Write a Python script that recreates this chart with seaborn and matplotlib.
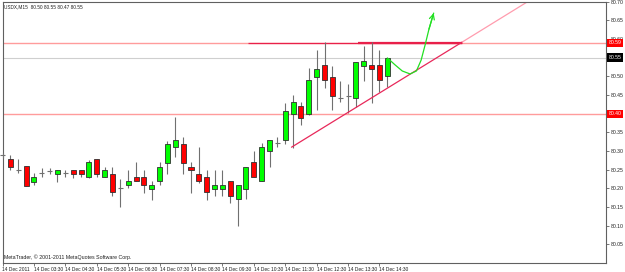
import numpy as np
import pandas as pd
import matplotlib
matplotlib.use("Agg")
import matplotlib.pyplot as plt
import seaborn as sns

# ---------------- data ----------------
symbol = "USDX,M15"
copyright_text = "MetaTrader, \u00a9 2001-2011 MetaQuotes Software Corp."

opens = [80.288, 80.278, 80.248, 80.259, 80.216, 80.240, 80.246, 80.238, 80.240, 80.248,
         80.248, 80.230, 80.278, 80.230, 80.238, 80.200, 80.208, 80.230, 80.230, 80.197,
         80.219, 80.267, 80.310, 80.318, 80.256, 80.238, 80.230, 80.197, 80.197, 80.219,
         80.170, 80.197, 80.270, 80.219, 80.299, 80.321, 80.329, 80.398, 80.420, 80.398,
         80.498, 80.530, 80.498, 80.441, 80.447, 80.441, 80.527, 80.530, 80.530, 80.50]
highs = [80.294, 80.288, 80.278, 80.260, 80.240, 80.254, 80.254, 80.248, 80.248, 80.248,
         80.248, 80.275, 80.278, 80.256, 80.256, 80.224, 80.248, 80.270, 80.248, 80.219,
         80.270, 80.326, 80.390, 80.337, 80.270, 80.310, 80.248, 80.248, 80.248, 80.219,
         80.208, 80.256, 80.299, 80.321, 80.329, 80.337, 80.428, 80.449, 80.431, 80.522,
         80.570, 80.591, 80.527, 80.487, 80.479, 80.538, 80.581, 80.591, 80.570, 80.55]
lows = [80.280, 80.248, 80.240, 80.205, 80.208, 80.230, 80.238, 80.216, 80.230, 80.227,
        80.230, 80.227, 80.230, 80.230, 80.179, 80.149, 80.200, 80.219, 80.187, 80.168,
        80.208, 80.238, 80.283, 80.238, 80.187, 80.213, 80.168, 80.179, 80.179, 80.160,
        80.098, 80.170, 80.230, 80.219, 80.256, 80.310, 80.318, 80.307, 80.369, 80.396,
        80.409, 80.468, 80.409, 80.431, 80.401, 80.417, 80.487, 80.428, 80.457, 80.47]
closes = [80.288, 80.256, 80.248, 80.205, 80.230, 80.240, 80.246, 80.248, 80.240, 80.238,
          80.238, 80.270, 80.238, 80.248, 80.189, 80.200, 80.219, 80.219, 80.208, 80.208,
          80.256, 80.318, 80.329, 80.267, 80.248, 80.219, 80.189, 80.208, 80.208, 80.179,
          80.208, 80.256, 80.230, 80.310, 80.329, 80.321, 80.406, 80.431, 80.388, 80.490,
          80.519, 80.490, 80.447, 80.441, 80.447, 80.538, 80.540, 80.519, 80.490, 80.55]

time_labels = ["14 Dec 2011", "14 Dec 03:30", "14 Dec 04:30", "14 Dec 05:30", "14 Dec 06:30",
               "14 Dec 07:30", "14 Dec 08:30", "14 Dec 09:30", "14 Dec 10:30", "14 Dec 11:30",
               "14 Dec 12:30", "14 Dec 13:30", "14 Dec 14:30"]
label_idx = [0, 4, 8, 12, 16, 20, 24, 28, 32, 36, 40, 44, 48]

y_ticks = [80.05, 80.10, 80.15, 80.20, 80.25, 80.30, 80.35, 80.40, 80.45, 80.50,
           80.55, 80.60, 80.65, 80.70]

resistance = 80.59
support = 80.40
last_price = 80.55

res_seg_x = [31.3, 58.5]
res_thick_x = [45.2, 58.5]
trend_x = [36.8, 58.5]
trend_y = [80.310, 80.591]
trend_ext_x = [58.5, 66.9]
trend_ext_y = [80.591, 80.700]
proj_x = [49.0, 50.0, 50.9, 51.9, 52.7, 53.3, 53.8, 54.3, 54.9]
proj_y = [80.549, 80.530, 80.514, 80.506, 80.514, 80.543, 80.583, 80.626, 80.669]

# ---------------- style ----------------
sns.set_style("white")
plt.rcParams["font.family"] = ["Liberation Sans", "DejaVu Sans"]
FS = 3.5
FS_Y = 3.7
TXT = "#202020"

W, H = 625, 272
fig = plt.figure(figsize=(W / 100, H / 100), dpi=100)
left_px, right_px, top_px, bot_px = 2.5, 606.0, 1.5, 263.0
ax = fig.add_axes([left_px / W, (H - bot_px) / H, (right_px - left_px) / W, (bot_px - top_px) / H])
fig.patch.set_facecolor("white")
ax.set_facecolor("white")

df = pd.DataFrame({"open": opens, "high": highs, "low": lows, "close": closes})
df["x"] = np.arange(len(df))
df["up"] = df["close"] >= df["open"]
df["bottom"] = df[["open", "close"]].min(axis=1)
df["height"] = (df["close"] - df["open"]).abs()

# wicks
ax.vlines(df["x"], df["low"], df["high"], color="#707070", lw=0.8, zorder=3, clip_on=False)
# bodies
bw = 0.64
body = df[df["height"] > 0.0005]
ax.bar(body["x"], body["height"], bottom=body["bottom"], width=bw,
       color=np.where(body["up"], "#00ff00", "#ff0000"), edgecolor="#303030",
       linewidth=0.6, zorder=4)
doji = df[df["height"] <= 0.0005]
ax.hlines(doji["close"], doji["x"] - bw / 2, doji["x"] + bw / 2, color="#707070",
          lw=0.8, zorder=4, clip_on=False)

# horizontal levels
ax.axhline(resistance, color="#ff9c9c", lw=1.0, zorder=1)
ax.axhline(support, color="#ff9c9c", lw=1.0, zorder=1)
ax.axhline(last_price, color="#cfcfcf", lw=0.8, zorder=1)
ax.hlines(resistance, res_seg_x[0], res_seg_x[1], color="#e8204a", lw=0.9, zorder=2)
ax.hlines(resistance, res_thick_x[0], res_thick_x[1], color="#e8204a", lw=1.6, zorder=2)

# trend line
sns.lineplot(x=trend_x, y=trend_y, ax=ax, color="#e8285a", lw=0.9, zorder=5)
sns.lineplot(x=trend_ext_x, y=trend_ext_y, ax=ax, color="#ff9cae", lw=0.9, zorder=1)

# projection curve
sns.lineplot(x=proj_x, y=proj_y, ax=ax, color="#22e022", lw=0.9, zorder=6, sort=False)
ax.annotate("", xy=(proj_x[-1], proj_y[-1]), xytext=(proj_x[-2], proj_y[-2]),
            arrowprops=dict(arrowstyle="->", color="#22e022", lw=0.9, mutation_scale=9,
                            shrinkA=0, shrinkB=0), zorder=6)

# axes
ax.set_xlim(0.15, 76.84)
ax.set_ylim(80.0, 80.70)
for s in ax.spines.values():
    s.set_color("#606060")
    s.set_linewidth(0.8)

ax.yaxis.tick_right()
ax.set_yticks(y_ticks)
ax.set_yticklabels([f"{v:.2f}" for v in y_ticks], fontsize=FS_Y, color=TXT)
ax.tick_params(axis="y", direction="out", length=2.0, width=0.5, pad=1.2, colors="#404040",
               labelcolor=TXT, right=True, left=False)
ax.set_xticks(label_idx)
ax.set_xticklabels(time_labels, fontsize=FS, color=TXT)
for lbl in ax.get_xticklabels():
    lbl.set_horizontalalignment("left")
ax.tick_params(axis="x", direction="out", length=2.0, width=0.5, pad=1.0, colors="#404040",
               labelcolor=TXT, bottom=True)
ax.set_xlabel("")
ax.set_ylabel("")
ax.grid(False)

# price boxes
trans = ax.get_yaxis_transform()
xb = 1 + 3.0 / (right_px - left_px)
for val, bg in [(resistance, "#ff0000"), (support, "#ff0000"), (last_price, "#000000")]:
    ax.text(xb, val, f"{val:.2f}", transform=trans, ha="left", va="center", fontsize=FS_Y,
            color="white", clip_on=False, zorder=20,
            bbox=dict(boxstyle="square,pad=0.3", fc=bg, ec="none"))

# header and copyright
last = df.iloc[-1]
header = f"{symbol}  {last['open']:.2f} {last['high']:.2f} {last['low']:.2f} {last['close']:.2f}"
ax.text(0.002, 0.99, header, transform=ax.transAxes, ha="left", va="top", fontsize=3.4, color=TXT)
ax.text(0.002, 0.012, copyright_text, transform=ax.transAxes, ha="left", va="bottom",
        fontsize=3.8, color=TXT)

fig.savefig("out.png", dpi=100, facecolor="white")
